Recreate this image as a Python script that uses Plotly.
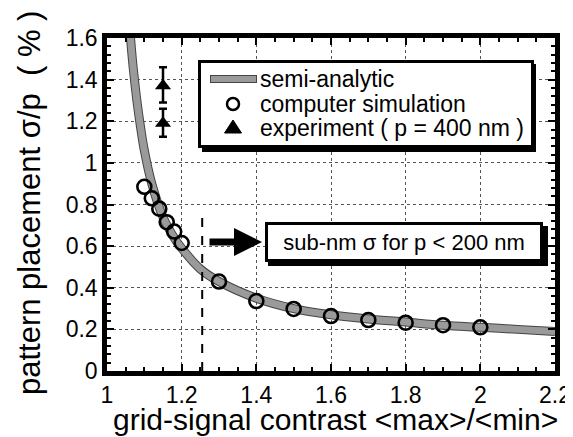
import plotly.graph_objects as go

# semi-analytic curve
curve_x = [1.063, 1.07, 1.08, 1.09, 1.10, 1.12, 1.15, 1.18, 1.20, 1.25, 1.30, 1.40, 1.50, 1.60, 1.70, 1.80, 1.90, 2.00, 2.10, 2.20]
curve_y = [1.60, 1.46, 1.30, 1.17, 1.06, 0.90, 0.74, 0.64, 0.59, 0.49, 0.43, 0.35, 0.30, 0.27, 0.25, 0.235, 0.22, 0.21, 0.20, 0.19]

# computer simulation
sim_x = [1.10, 1.12, 1.14, 1.16, 1.18, 1.20, 1.30, 1.40, 1.50, 1.60, 1.70, 1.80, 1.90, 2.00]
sim_y = [0.885, 0.83, 0.78, 0.715, 0.67, 0.615, 0.43, 0.336, 0.298, 0.264, 0.245, 0.232, 0.22, 0.21]

# experiment (p = 400 nm)
exp_x = [1.15, 1.15]
exp_y = [1.37, 1.19]
exp_err_plus = [0.09, 0.07]
exp_err_minus = [0.08, 0.065]

x_ticks = [1, 1.2, 1.4, 1.6, 1.8, 2, 2.2]
x_tick_labels = ["1", "1.2", "1.4", "1.6", "1.8", "2", "2.2"]
y_ticks = [0, 0.2, 0.4, 0.6, 0.8, 1.0, 1.2, 1.4, 1.6]
y_tick_labels = ["0", "0.2", "0.4", "0.6", "0.8", "1", "1.2", "1.4", "1.6"]

legend_labels = ["semi-analytic", "computer simulation", "experiment ( p = 400 nm )"]
x_title = "grid-signal contrast <max>/<min>"
y_title = "pattern placement σ/p  ( % )"
note_text = "sub-nm σ for p < 200 nm"

threshold_x = 1.255
threshold_top = 0.75

FONT = "Liberation Sans, Arial, Helvetica, sans-serif"

# page body has an 8px default margin: figure is sized/shifted to fill the window
OFF = 8
W, H = 573 - OFF, 437 - OFF
L, R, T, B = 107 - OFF, 18, 38 - OFF, 66
PW, PH = W - L - R, H - T - B


def px(xi):  # window pixel x -> paper
    return (xi - OFF - L) / PW


def py(yi):  # window pixel y -> paper
    return (H - B - (yi - OFF)) / PH


fig = go.Figure()

CURVE_EDGE = "#444444"
CURVE_CORE = "#9a9a9a"

# curve: dark edge + gray core
fig.add_trace(go.Scatter(x=curve_x, y=curve_y, mode="lines", line=dict(color=CURVE_EDGE, width=9, shape="spline"),
                         showlegend=False, hoverinfo="skip"))
fig.add_trace(go.Scatter(x=curve_x, y=curve_y, mode="lines", line=dict(color=CURVE_CORE, width=7, shape="spline"),
                         name=legend_labels[0], showlegend=False))
fig.add_trace(go.Scatter(x=sim_x, y=sim_y, mode="markers",
                         marker=dict(symbol="circle-open", size=14, color="black", line=dict(width=2.6, color="black")),
                         name=legend_labels[1], showlegend=False))
fig.add_trace(go.Scatter(x=exp_x, y=exp_y, mode="markers",
                         marker=dict(symbol="triangle-up", size=14, color="black"),
                         error_y=dict(type="data", array=exp_err_plus, arrayminus=exp_err_minus,
                                      color="black", thickness=2.5, width=4),
                         name=legend_labels[2], showlegend=False))

# dashed threshold line
fig.add_shape(type="line", x0=threshold_x, x1=threshold_x, y0=0, y1=threshold_top,
              line=dict(color="black", width=2, dash="dash"))

# arrow
fig.add_annotation(x=px(262), y=py(242), ax=-54, ay=0, xref="paper", yref="paper",
                   axref="pixel", ayref="pixel",
                   text="", showarrow=True, arrowhead=2, arrowsize=0.8, arrowwidth=7, arrowcolor="black")

# sub-nm box shadow + box
fig.add_shape(type="rect", xref="paper", yref="paper",
              x0=px(268), x1=px(548), y0=py(266), y1=py(226),
              fillcolor="black", line=dict(width=0), layer="above")
fig.add_annotation(x=px(404), y=py(242), xref="paper", yref="paper", text=note_text, showarrow=False,
                   font=dict(size=22, color="black", family=FONT), bgcolor="white",
                   bordercolor="black", borderwidth=3, borderpad=4, width=264, height=26)

# legend: shadow + box
fig.add_shape(type="rect", xref="paper", yref="paper",
              x0=px(202), x1=px(536), y0=py(152), y1=py(64),
              fillcolor="black", line=dict(width=0), layer="above")
fig.add_shape(type="rect", xref="paper", yref="paper",
              x0=px(199.5), x1=px(532.5), y0=py(146.5), y1=py(61.5),
              fillcolor="white", line=dict(width=3, color="black"), layer="above")
# legend keys
fig.add_shape(type="line", xref="paper", yref="paper", x0=px(210), x1=px(257), y0=py(79), y1=py(79),
              line=dict(color=CURVE_EDGE, width=8), layer="above")
fig.add_shape(type="line", xref="paper", yref="paper", x0=px(211), x1=px(256), y0=py(79), y1=py(79),
              line=dict(color=CURVE_CORE, width=6), layer="above")
fig.add_shape(type="circle", xref="paper", yref="paper", x0=px(227), x1=px(239), y0=py(110), y1=py(98),
              line=dict(color="black", width=2.5), fillcolor="white", layer="above")
fig.add_shape(type="path", xref="paper", yref="paper",
              path=f"M {px(224.5)} {py(133)} L {px(241.5)} {py(133)} L {px(233)} {py(120)} Z",
              line=dict(color="black", width=1), fillcolor="black", layer="above")
legend_rows = [79, 104, 128]
for lbl, yr in zip(legend_labels, legend_rows):
    fig.add_annotation(x=px(258), y=py(yr), xref="paper", yref="paper", text=lbl, showarrow=False,
                       xanchor="left", yanchor="middle", font=dict(size=23, family=FONT, color="black"))

# axis titles
fig.add_annotation(x=px(335), y=py(420), xref="paper", yref="paper", text=x_title, showarrow=False,
                   xanchor="center", yanchor="middle", font=dict(size=30, family=FONT, color="black"))
fig.add_annotation(x=px(29), y=py(203), xref="paper", yref="paper", text=y_title, showarrow=False,
                   textangle=-90, xanchor="center", yanchor="middle", font=dict(size=31, family=FONT, color="black"))

fig.update_layout(
    width=W, height=H,
    margin=dict(l=L, r=R, t=T, b=B),
    paper_bgcolor="white", plot_bgcolor="white",
    font=dict(family=FONT, color="black", size=22),
    showlegend=False,
)

axis_common = dict(showline=True, linecolor="black", linewidth=4.5, mirror="allticks",
                   ticks="inside", ticklen=7, tickwidth=2, tickcolor="black",
                   showgrid=True, gridcolor="#555", gridwidth=1, griddash="dot", zeroline=False,
                   tickfont=dict(size=23, family=FONT), automargin=False)

fig.update_xaxes(range=[1, 2.2], tickvals=x_ticks, ticktext=x_tick_labels,
                 minor=dict(dtick=0.05, ticks="inside", ticklen=4, tickwidth=1.5, tickcolor="black", showgrid=False),
                 **axis_common)
fig.update_yaxes(range=[0, 1.6], tickvals=y_ticks, ticktext=y_tick_labels,
                 minor=dict(dtick=0.04, ticks="inside", ticklen=4, tickwidth=1.5, tickcolor="black", showgrid=False),
                 **axis_common)

fig.write_html("out.html")
